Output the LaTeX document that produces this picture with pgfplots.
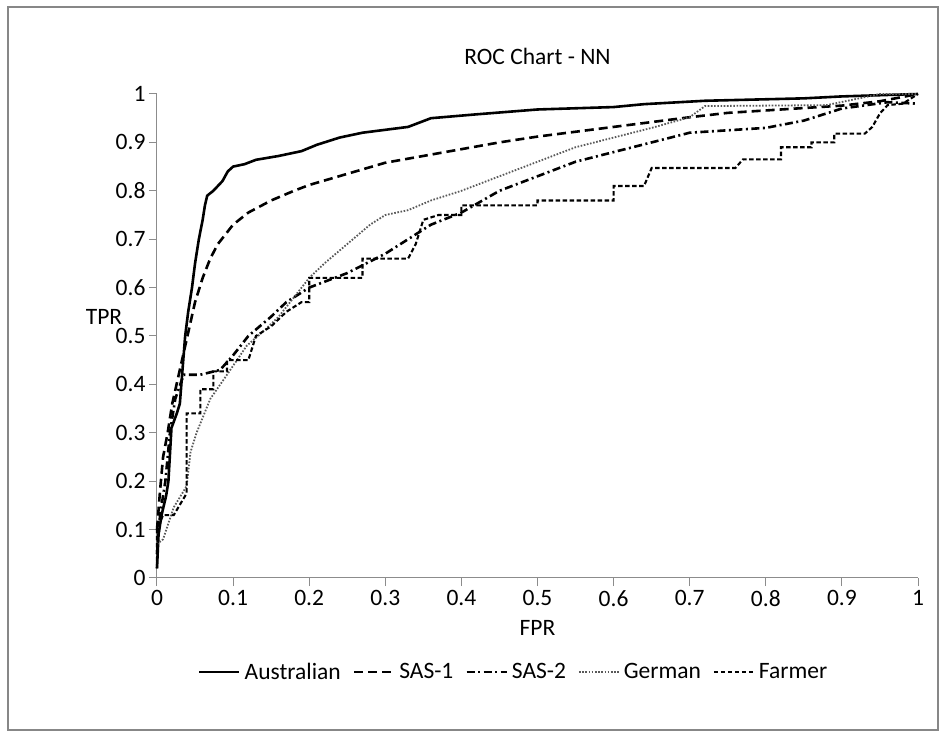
\documentclass[border=0pt]{standalone}
\usepackage{pgfplots}
\pgfplotsset{compat=1.18}
\usepackage{fontspec}
\setmainfont{Carlito}

\begin{document}
\begin{tikzpicture}[x=1pt,y=1pt]
% canvas and outer frame (1pt = 1px of the reference)
\path (-157,-158) rectangle (789,578);
\draw[line width=2pt, color=black!47] (-149,-152) rectangle (781,571);
\begin{axis}[at={(0,0)}, anchor=origin, scale only axis, width=761pt, height=484pt,
  xmin=0, xmax=1, ymin=0, ymax=1, clip=false,
  axis lines*=left, axis line style={black!45, line width=1pt},
  xtick={0,0.1,...,1}, ytick={0,0.1,...,1},
  tick align=outside, major tick length=8pt, tick style={black!45, line width=1pt},
  /pgf/number format/assume math mode=true,
  /pgf/number format/fixed, /pgf/number format/precision=1,
  tick label style={font=\fontsize{23.5}{27}\selectfont, color=black},
  xticklabel style={yshift=-1pt},
  yticklabel style={xshift=0pt},
  title={ROC Chart - NN}, title style={font=\fontsize{23.5}{27}\selectfont, at={(0.5,1)}, yshift=20pt},
  xlabel={FPR}, ylabel={TPR},
  label style={font=\fontsize{23.5}{27}\selectfont},
  xlabel style={at={(axis description cs:0.5,0)}, anchor=center, yshift=-50pt},
  ylabel style={at={(axis description cs:-0.0696,0.54)}, anchor=center, rotate=-90, inner sep=0pt},
  legend columns=5,
  legend style={at={(axis description cs:0.47,-0.194)}, anchor=center, draw=none,
    font=\fontsize{23.5}{27}\selectfont, inner sep=0pt, nodes={inner xsep=4pt}},
  legend image code/.code={\draw[#1] (0pt,0pt) -- (40pt,0pt);},
  /tikz/every even column/.append style={column sep=8pt},
]
\addplot[black, line width=2.6pt, line join=miter] coordinates {
(0,0.02) (0.002,0.09) (0.006,0.13) (0.012,0.17) (0.015,0.2) (0.019,0.31) (0.026,0.34)
(0.03,0.36) (0.034,0.44) (0.037,0.5) (0.041,0.55) (0.046,0.6) (0.05,0.65) (0.055,0.7)
(0.06,0.74) (0.063,0.77) (0.066,0.79) (0.074,0.8) (0.08,0.81) (0.086,0.82) (0.093,0.84)
(0.1,0.85) (0.115,0.855) (0.13,0.864) (0.16,0.872) (0.19,0.882) (0.21,0.895) (0.24,0.91)
(0.27,0.92) (0.33,0.932) (0.36,0.95) (0.42,0.958) (0.5,0.968) (0.6,0.973) (0.64,0.979)
(0.72,0.986) (0.85,0.991) (0.9,0.995) (1,1)};
\addlegendentry{Australian}
\addplot[black, line width=2.6pt, dash pattern=on 9pt off 5pt] coordinates {
(0,0.1) (0.004,0.18) (0.008,0.25) (0.014,0.3) (0.02,0.36) (0.03,0.43) (0.04,0.5)
(0.05,0.57) (0.06,0.62) (0.07,0.66) (0.08,0.69) (0.09,0.71) (0.1,0.73) (0.12,0.755)
(0.15,0.78) (0.18,0.8) (0.2,0.812) (0.25,0.835) (0.3,0.858) (0.35,0.872) (0.4,0.886)
(0.45,0.9) (0.5,0.912) (0.55,0.922) (0.6,0.932) (0.65,0.942) (0.7,0.952) (0.75,0.961)
(0.8,0.966) (0.9,0.976) (0.95,0.985) (1,1)};
\addlegendentry{SAS-1}
\addplot[black, line width=2.6pt, dash pattern=on 8pt off 3.5pt on 2pt off 3.5pt] coordinates {
(0,0.05) (0.004,0.13) (0.011,0.2) (0.017,0.3) (0.024,0.37) (0.035,0.42) (0.057,0.42)
(0.083,0.43) (0.1,0.46) (0.12,0.5) (0.15,0.54) (0.17,0.57) (0.2,0.6) (0.25,0.63)
(0.3,0.67) (0.33,0.7) (0.36,0.73) (0.4,0.755) (0.45,0.8) (0.5,0.83) (0.55,0.86)
(0.6,0.88) (0.65,0.9) (0.7,0.92) (0.8,0.93) (0.85,0.945) (0.9,0.97) (0.96,0.983) (1,0.98)};
\addlegendentry{SAS-2}
\addplot[black!65, line width=1.8pt, dash pattern=on 1.6pt off 1.6pt] coordinates {
(0,0.07) (0.008,0.08) (0.022,0.146) (0.039,0.19) (0.044,0.26) (0.052,0.3) (0.07,0.37)
(0.092,0.42) (0.118,0.48) (0.14,0.51) (0.16,0.54) (0.18,0.58) (0.2,0.62) (0.22,0.65)
(0.25,0.69) (0.28,0.73) (0.3,0.75) (0.33,0.76) (0.36,0.78) (0.4,0.8) (0.45,0.83)
(0.5,0.86) (0.55,0.89) (0.6,0.91) (0.65,0.93) (0.7,0.952) (0.72,0.975) (0.88,0.977)
(0.95,1) (1,1)};
\addlegendentry{German}
\addplot[black, line width=2.1pt, dash pattern=on 4.5pt off 2.5pt] coordinates {
(0,0.02) (0,0.1) (0.008,0.13) (0.022,0.13) (0.039,0.175) (0.039,0.34) (0.057,0.34)
(0.057,0.39) (0.074,0.39) (0.074,0.427) (0.092,0.427) (0.092,0.45) (0.12,0.45)
(0.13,0.5) (0.15,0.52) (0.17,0.55) (0.19,0.57) (0.2,0.57) (0.2,0.62) (0.27,0.62)
(0.27,0.66) (0.33,0.66) (0.34,0.69) (0.35,0.74) (0.37,0.75) (0.4,0.75) (0.4,0.77)
(0.5,0.77) (0.5,0.78) (0.6,0.78) (0.6,0.81) (0.64,0.81) (0.65,0.847) (0.76,0.847)
(0.77,0.865) (0.82,0.865) (0.82,0.89) (0.86,0.89) (0.86,0.9) (0.89,0.9) (0.89,0.918)
(0.93,0.918) (0.94,0.932) (0.95,0.96) (0.96,0.977) (0.98,0.98) (1,1)};
\addlegendentry{Farmer}
\end{axis}
\end{tikzpicture}
\end{document}
